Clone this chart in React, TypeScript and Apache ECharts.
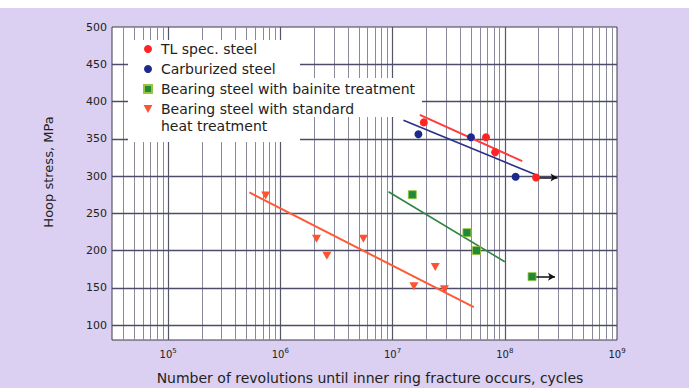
import React, { useEffect, useRef } from "react";
import * as echarts from "echarts";

// ---- data (cycles, MPa) ----
const TL_NAME = "TL spec. steel";
const TL_N = [1.9e7, 6.8e7, 8.2e7, 1.9e8];
const TL_S = [372, 352, 332, 298];
const TL_FIT_N = [1.75e7, 1.43e8];
const TL_FIT_S = [382, 320];
const TL_RUNOUT_N = [1.9e8, 2.95e8];
const TL_RUNOUT_S = [298, 298];

const CARB_NAME = "Carburized steel";
const CARB_N = [1.7e7, 5.0e7, 1.25e8];
const CARB_S = [356, 352, 299];
const CARB_FIT_N = [1.25e7, 1.94e8];
const CARB_FIT_S = [375, 301];

const BAIN_NAME = "Bearing steel with bainite treatment";
const BAIN_N = [1.5e7, 4.6e7, 5.6e7, 1.75e8];
const BAIN_S = [275, 224, 200, 165];
const BAIN_FIT_N = [9.2e6, 1.0e8];
const BAIN_FIT_S = [279, 185];
const BAIN_RUNOUT_N = [1.75e8, 2.8e8];
const BAIN_RUNOUT_S = [165, 165];

const STD_NAME = "Bearing steel with standard heat treatment";
const STD_N = [7.4e5, 2.1e6, 2.6e6, 5.5e6, 1.55e7, 2.4e7, 2.9e7];
const STD_S = [274, 216, 193, 216, 152, 178, 148];
const STD_FIT_N = [5.3e5, 5.3e7];
const STD_FIT_S = [278, 124];

// ---- axes / grid ----
const X_MIN = 31623;
const X_MAX = 1e9;
const Y_MIN = 80;
const Y_MAX = 500;
const DECADES = [1e4, 1e5, 1e6, 1e7, 1e8];
const MINOR_MULTIPLIERS = [2, 3, 4, 5, 6, 7, 8, 9];
const MAJOR_X = [1e5, 1e6, 1e7, 1e8];
const Y_GRID = [100, 150, 200, 250, 300, 350, 400, 450];

const FONT = "DejaVu Sans";
const TXT = "#222";
const DOWN_TRI = "path://M0,0L10,0L5,9Z";
const SQUARE = "path://M0,0L10,0L10,10L0,10Z";

const zip = (a: number[], b: number[]) => a.map((v, i) => [v, b[i]]);

export default function App() {
  const ref = useRef<HTMLDivElement>(null);
  useEffect(() => {
    if (!ref.current) return;
    const chart = echarts.init(ref.current, undefined, { renderer: "svg" });
    const minorX: number[] = [];
    DECADES.forEach((d) =>
      MINOR_MULTIPLIERS.forEach((m) => {
        const v = d * m;
        if (v > X_MIN && v < X_MAX) minorX.push(v);
      })
    );
    const fit = (name: string, n: number[], s: number[], color: string, width: number, runout?: [number[], number[]]) => ({
      type: "line",
      name,
      data: zip(n, s),
      symbol: "none",
      silent: true,
      z: 4,
      lineStyle: { color, width },
      markLine: runout
        ? {
            silent: true,
            z: 4,
            symbol: ["none", "arrow"],
            symbolSize: [6, 7],
            label: { show: false },
            lineStyle: { color: "#111", width: 1.5, type: "solid" },
            data: [[{ coord: [runout[0][0], runout[1][0]] }, { coord: [runout[0][1], runout[1][1]] }]],
          }
        : undefined,
    });
    chart.setOption({
      animation: false,
      backgroundColor: "#dbd0f1",
      grid: {
        left: 112,
        right: 72,
        top: 27,
        bottom: 48,
        show: true,
        backgroundColor: "#ffffff",
        borderColor: "#3a3a4a",
        borderWidth: 1,
      },
      xAxis: {
        type: "log",
        logBase: 10,
        min: X_MIN,
        max: X_MAX,
        axisLine: { show: false },
        axisTick: { show: false },
        splitLine: { show: false },
        axisLabel: {
          margin: 7,
          formatter: (v: number) => {
            const e = Math.log10(v);
            const r = Math.round(e);
            return Math.abs(e - r) < 1e-6 && r >= 5 ? `{b|10}{s|${r}}` : "";
          },
          rich: {
            b: { fontFamily: FONT, fontSize: 10, color: TXT },
            s: { fontFamily: FONT, fontSize: 7, color: TXT, padding: [0, 0, 7, 0] },
          },
        },
      },
      yAxis: {
        type: "value",
        min: Y_MIN,
        max: Y_MAX,
        interval: 10,
        axisLine: { show: false },
        axisTick: { show: false },
        splitLine: { show: false },
        axisLabel: {
          margin: 5,
          fontFamily: FONT,
          fontSize: 11,
          color: TXT,
          formatter: (v: number) => (Math.round(v) % 50 === 0 ? String(Math.round(v)) : ""),
        },
      },
      legend: {
        data: [
          { name: TL_NAME, icon: "circle" },
          { name: CARB_NAME, icon: "circle" },
          { name: BAIN_NAME, icon: SQUARE },
          { name: STD_NAME, icon: DOWN_TRI },
        ],
        orient: "vertical",
        left: 143,
        top: 40,
        padding: 0,
        itemGap: 2,
        itemWidth: 16,
        itemHeight: 8,
        selectedMode: false,
        textStyle: { fontFamily: FONT, fontSize: 14, color: TXT, lineHeight: 18 },
        formatter: (n: string) => (n === STD_NAME ? "Bearing steel with standard" : n),
      },
      graphic: [
        { type: "rect", shape: { x: 0, y: 0, width: 689, height: 8 }, style: { fill: "#ffffff" }, z: 3 },
        { type: "rect", shape: { x: 128, y: 40, width: 172, height: 102 }, style: { fill: "#ffffff" }, z: 3 },
        { type: "rect", shape: { x: 300, y: 78, width: 122, height: 39 }, style: { fill: "#ffffff" }, z: 3 },
        {
          type: "text",
          x: 161,
          y: 126,
          z: 10,
          style: { text: "heat treatment", font: `14px "${FONT}"`, fill: TXT, verticalAlign: "middle" },
        },
        {
          type: "text",
          x: 48,
          y: 172,
          rotation: Math.PI / 2,
          z: 10,
          style: { text: "Hoop stress, MPa", font: `13px "${FONT}"`, fill: TXT, align: "center", verticalAlign: "middle" },
        },
        {
          type: "text",
          x: 370,
          y: 378,
          z: 10,
          style: {
            text: "Number of revolutions until inner ring fracture occurs, cycles",
            font: `14px "${FONT}"`,
            fill: TXT,
            align: "center",
            verticalAlign: "middle",
          },
        },
      ],
      series: [
        {
          type: "line",
          name: "grid",
          data: [[X_MIN, Y_MIN]],
          symbol: "none",
          silent: true,
          z: 1,
          lineStyle: { opacity: 0 },
          markLine: {
            silent: true,
            z: 1,
            symbol: ["none", "none"],
            label: { show: false },
            data: [
              ...minorX.map((v) => ({ xAxis: v, lineStyle: { color: "#8a8a9c", width: 1, type: "solid" } })),
              ...MAJOR_X.map((v) => ({ xAxis: v, lineStyle: { color: "#55556a", width: 1.2, type: "solid" } })),
              ...Y_GRID.map((v) => ({ yAxis: v, lineStyle: { color: "#4c4c6a", width: 1.3, type: "solid" } })),
            ],
          },
        },
        fit("TL fit", TL_FIT_N, TL_FIT_S, "#ff3b3b", 2, [TL_RUNOUT_N, TL_RUNOUT_S]),
        fit("Carburized fit", CARB_FIT_N, CARB_FIT_S, "#2a2f8a", 1.6),
        fit("Bainite fit", BAIN_FIT_N, BAIN_FIT_S, "#2e8540", 1.6, [BAIN_RUNOUT_N, BAIN_RUNOUT_S]),
        fit("Standard fit", STD_FIT_N, STD_FIT_S, "#ff5a36", 2),
        {
          type: "scatter",
          name: TL_NAME,
          data: zip(TL_N, TL_S),
          symbol: "circle",
          symbolSize: 8,
          z: 6,
          itemStyle: { color: "#ff2424", opacity: 1 },
        },
        {
          type: "scatter",
          name: CARB_NAME,
          data: zip(CARB_N, CARB_S),
          symbol: "circle",
          symbolSize: 8,
          z: 6,
          itemStyle: { color: "#1c2a8c", opacity: 1 },
        },
        {
          type: "scatter",
          name: BAIN_NAME,
          data: zip(BAIN_N, BAIN_S),
          symbol: SQUARE,
          symbolSize: 8,
          z: 6,
          itemStyle: { color: "#1f8a3a", borderColor: "#9ac43a", borderWidth: 0.8, opacity: 1 },
        },
        {
          type: "scatter",
          name: STD_NAME,
          data: zip(STD_N, STD_S),
          symbol: DOWN_TRI,
          symbolSize: [9, 8],
          z: 6,
          itemStyle: { color: "#ff5230", opacity: 1 },
        },
      ],
    });
    return () => chart.dispose();
  }, []);
  return <div ref={ref} style={{ position: "absolute", left: 0, top: 0, width: 689, height: 388 }} />;
}
